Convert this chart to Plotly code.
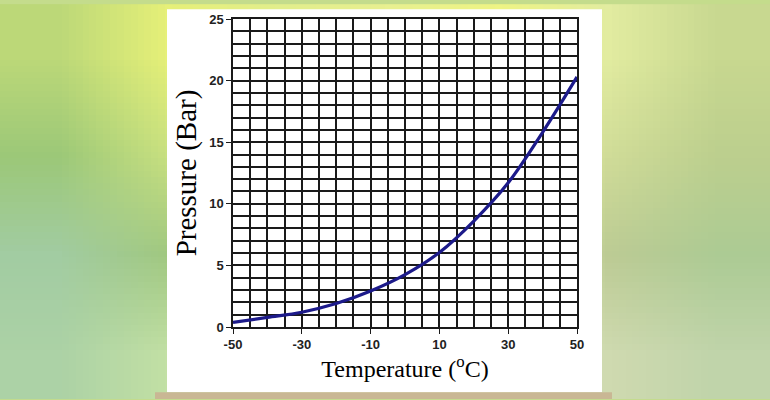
import base64
import struct
import zlib

import plotly.graph_objects as go

# ===== DATA =====
temperature = [-50, -40, -30, -20, -10, 0, 10, 20, 30, 40, 50]
pressure = [0.37, 0.78, 1.2, 1.9, 2.92, 4.25, 6.05, 8.6, 11.7, 15.8, 20.3]

x_ticks = [-50, -30, -10, 10, 30, 50]
x_labels = ["-50", "-30", "-10", "10", "30", "50"]
y_ticks = [0, 5, 10, 15, 20, 25]


# ===== BLURRED GREEN BACKDROP (tiny png, stretched by the browser) =====
def make_png(rows):
    raw = b"".join(b"\x00" + bytes(c for px in row for c in px) for row in rows)

    def chunk(tag, data):
        body = tag + data
        return struct.pack(">I", len(data)) + body + struct.pack(">I", zlib.crc32(body) & 0xFFFFFFFF)

    head = struct.pack(">IIBBBBB", len(rows[0]), len(rows), 8, 2, 0, 0, 0)
    png = b"\x89PNG\r\n\x1a\n" + chunk(b"IHDR", head) + chunk(b"IDAT", zlib.compress(raw)) + chunk(b"IEND", b"")
    return "data:image/png;base64," + base64.b64encode(png).decode()


def hx(c):
    return tuple(int(c[i:i + 2], 16) for i in (1, 3, 5))


backdrop = [
    ["#bcd878", "#e6f078", "#e2ee8c", "#e8f090", "#eef484", "#e2eca0", "#c8d890"],
    ["#9cc878", "#c8e080", "#d2e88e", "#e8f09a", "#f0f48c", "#d0dc98", "#bccf8e"],
    ["#a2cca2", "#a0c880", "#c6e29a", "#e0ecaa", "#dceaa4", "#bccb94", "#accb94"],
    ["#acd2a6", "#c2e0a4", "#d8eaac", "#e0ecb4", "#dce8b2", "#cfdab0", "#c0d4aa"],
]
bg_uri = make_png([[hx(c) for c in row] for row in backdrop])

# plot area in pixels: x 233..577, y 15..327
L, R, T, B = 233, 193, 15, 73
pw, ph = 770 - L - R, 400 - T - B


def px_x(p):
    return (p - L) / pw


def px_y(p):
    return (400 - B - p) / ph


fig = go.Figure()
fig.add_trace(go.Scatter(
    x=temperature, y=pressure, mode="lines", line_shape="spline",
    line=dict(color="#1c1a8a", width=3.2), hoverinfo="skip", showlegend=False,
))

fig.update_layout(
    width=770, height=400,
    margin=dict(l=L, r=R, t=T, b=B),
    paper_bgcolor="#c4dc8c", plot_bgcolor="white",
    images=[dict(
        source=bg_uri, xref="paper", yref="paper",
        x=px_x(0), y=px_y(0), sizex=770 / pw, sizey=400 / ph,
        xanchor="left", yanchor="top", sizing="stretch", layer="below",
    )],
    shapes=[
        # white card behind the chart
        dict(type="rect", xref="paper", yref="paper", layer="below",
             x0=px_x(167), x1=px_x(602), y0=px_y(393), y1=px_y(5),
             fillcolor="white", line_width=0),
        # sandy strip along the bottom
        dict(type="rect", xref="paper", yref="paper", layer="below",
             x0=px_x(155), x1=px_x(612), y0=px_y(400), y1=px_y(393),
             fillcolor="#c9b794", line_width=0),
    ],
)

grid = "#1a1a1a"
fig.update_xaxes(
    range=[-50, 50], tickvals=x_ticks, ticktext=x_labels, ticks="outside", ticklen=5, tickcolor=grid,
    showgrid=True, gridcolor=grid, gridwidth=1.5,
    minor=dict(dtick=5, tick0=-50, showgrid=True, gridcolor=grid, gridwidth=1.5),
    showline=True, linecolor=grid, linewidth=1.5, mirror=True, zeroline=False,
    tickfont=dict(family="Liberation Sans", size=13, color="#222222", weight="bold"),
    title=dict(text="Temperature (<sup>o</sup>C)", standoff=4,
               font=dict(family="Liberation Serif", size=24, color="black")),
)
fig.update_yaxes(
    range=[0, 25], tickvals=y_ticks, ticks="outside", ticklen=5, tickcolor=grid,
    showgrid=True, gridcolor=grid, gridwidth=1.5,
    minor=dict(dtick=1, tick0=0, showgrid=True, gridcolor=grid, gridwidth=1.5),
    showline=True, linecolor=grid, linewidth=1.5, mirror=True, zeroline=False,
    tickfont=dict(family="Liberation Sans", size=13, color="#222222", weight="bold"),
    title=dict(text="Pressure (Bar)", standoff=4,
               font=dict(family="Liberation Serif", size=29, color="black")),
)

# drop the page's default 8px body margin so the figure sits at 0,0
fig.write_html("out.html", config={"displayModeBar": False},
               post_script="document.body.style.margin='0';")
